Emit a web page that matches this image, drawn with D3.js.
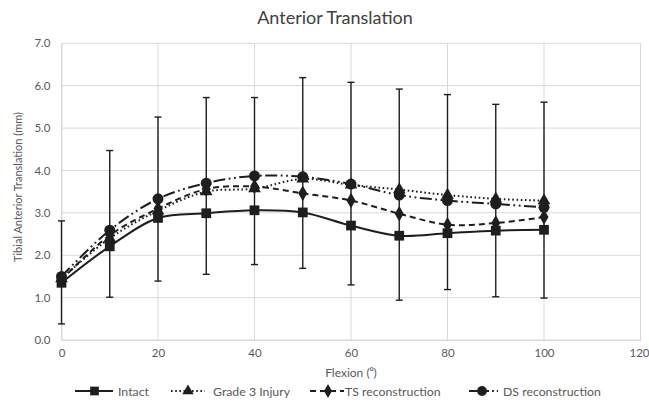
<!DOCTYPE html>
<html><head><meta charset="utf-8">
<script src="https://cdn.jsdelivr.net/npm/d3@7"></script>
<style>body{margin:0;background:#fff;} svg{display:block;font-family:Lato, "Open Sans", sans-serif;}</style>
</head><body>
<script>
const flexion = [0,10,20,30,40,50,60,70,80,90,100];
const intact = [1.35,2.21,2.88,2.99,3.06,3.01,2.70,2.46,2.52,2.58,2.60];
const grade3 = [1.45,2.40,3.05,3.50,3.57,3.80,3.66,3.55,3.42,3.33,3.29];
const tsRecon = [1.42,2.47,3.10,3.56,3.62,3.46,3.29,2.98,2.72,2.76,2.90];
const dsRecon = [1.50,2.59,3.33,3.70,3.87,3.85,3.68,3.42,3.29,3.21,3.13];
const errLow = [0.38,1.01,1.39,1.55,1.78,1.69,1.30,0.94,1.19,1.02,0.99];
const errHigh = [2.81,4.47,5.26,5.72,5.72,6.19,6.08,5.92,5.79,5.56,5.61];
const xTicks = [0,20,40,60,80,100,120];
const yTicks = [0,1,2,3,4,5,6,7];
const seriesNames = ["Intact","Grade 3 Injury","TS reconstruction","DS reconstruction"];

const W=649,H=402;
const svg=d3.select("body").append("svg").attr("width",W).attr("height",H);
const x=d3.scaleLinear().domain([0,120]).range([61.5,640.5]);
const y=d3.scaleLinear().domain([0,7]).range([340,43.3]);
const ink="#1e1e1e";

svg.append("text").attr("x",335).attr("y",24).attr("text-anchor","middle")
  .attr("font-size",18).attr("fill","#404040").text("Anterior Translation");

// grid
svg.append("g").selectAll("line").data(yTicks).join("line")
  .attr("x1",x(0)).attr("x2",x(120)).attr("y1",d=>y(d)).attr("y2",d=>y(d))
  .attr("stroke","#d9d9d9").attr("stroke-width",1);
svg.append("g").selectAll("line").data(xTicks).join("line")
  .attr("y1",y(0)).attr("y2",y(7)).attr("x1",d=>x(d)).attr("x2",d=>x(d))
  .attr("stroke","#d9d9d9").attr("stroke-width",1);

// axes
const yAxis=svg.append("g").attr("transform",`translate(${x(0)},0)`)
  .call(d3.axisLeft(y).tickValues(yTicks).tickFormat(d3.format(".1f")).tickSize(0).tickPadding(11));
const xAxis=svg.append("g").attr("transform",`translate(0,${y(0)})`)
  .call(d3.axisBottom(x).tickValues(xTicks).tickSize(0).tickPadding(9));
[yAxis,xAxis].forEach(a=>{a.select(".domain").attr("stroke","#d9d9d9");
  a.selectAll("text").attr("font-size",11.5).attr("fill","#595959").attr("font-family","Lato, 'Open Sans', sans-serif");});
xAxis.selectAll(".tick").filter(d=>d===120).select("text").attr("dx",-1.5);

svg.append("text").attr("x",351).attr("y",377).attr("text-anchor","middle")
  .attr("font-size",12).attr("fill","#595959").text("Flexion (⁰)");
svg.append("text").attr("transform","translate(22,187) rotate(-90)").attr("text-anchor","middle")
  .attr("font-size",11).attr("fill","#595959").text("Tibial Anterior Translation (mm)");

// error bars
const eb=svg.append("g").attr("stroke",ink).attr("stroke-width",1.4);
flexion.forEach((f,i)=>{
  eb.append("line").attr("x1",x(f)).attr("x2",x(f)).attr("y1",y(errLow[i])).attr("y2",y(errHigh[i]));
  eb.append("line").attr("x1",x(f)-3.5).attr("x2",x(f)+3.5).attr("y1",y(errLow[i])).attr("y2",y(errLow[i]));
  eb.append("line").attr("x1",x(f)-3.5).attr("x2",x(f)+3.5).attr("y1",y(errHigh[i])).attr("y2",y(errHigh[i]));
});

const styles=[
  {vals:intact,dash:null,sym:d3.symbolSquare,size:95},
  {vals:grade3,dash:"1.6,2.6",sym:d3.symbolTriangle,size:70},
  {vals:tsRecon,dash:"6,4",sym:d3.symbolDiamond,size:70},
  {vals:dsRecon,dash:"12,3.5,1.8,3.5,1.8,3.5",sym:d3.symbolCircle,size:95}
];
const line=d3.line().x((d,i)=>x(flexion[i])).y(d=>y(d)).curve(d3.curveCatmullRom.alpha(0.5));
styles.forEach(s=>{
  svg.append("path").attr("d",line(s.vals)).attr("fill","none").attr("stroke",ink)
    .attr("stroke-width",2).attr("stroke-dasharray",s.dash);
  svg.append("g").selectAll("path").data(s.vals).join("path")
    .attr("d",d3.symbol().type(s.sym).size(s.size))
    .attr("transform",(d,i)=>`translate(${x(flexion[i])},${y(d)})`).attr("fill",ink);
});

// legend
const legX=[[75,113,94.5,118],[171,205,188,213],[310,344,328,345],[469,498,482,503]];
const legDash=[null,"1.6,2.6","6,4","20,3,1.8,3"];
styles.forEach((s,i)=>{
  const [a,b,m,t]=legX[i];
  svg.append("line").attr("x1",a).attr("x2",b).attr("y1",391).attr("y2",391)
    .attr("stroke",ink).attr("stroke-width",2).attr("stroke-dasharray",legDash[i]);
  svg.append("path").attr("d",d3.symbol().type(s.sym).size(s.size*0.8)())
    .attr("transform",`translate(${m},391)`).attr("fill",ink);
  svg.append("text").attr("x",t).attr("y",395.5).attr("font-size",12.3).attr("fill","#595959").text(seriesNames[i]);
});
</script>
</body></html>
